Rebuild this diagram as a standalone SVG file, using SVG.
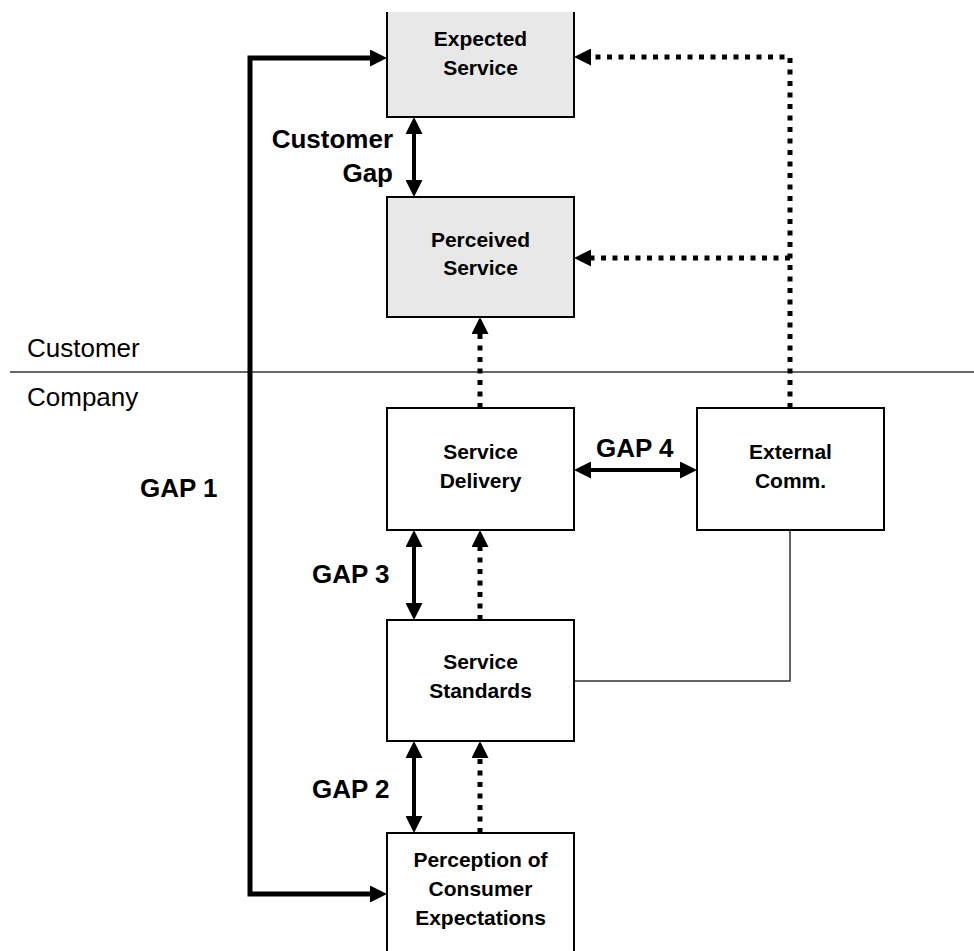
<svg xmlns="http://www.w3.org/2000/svg" width="974" height="951" viewBox="0 0 974 951">
  <style>
    .box { stroke: #000; stroke-width: 2; }
    .gray { fill: #e8e8e8; }
    .white { fill: #fff; }
    .nt { font-family: "Liberation Sans", Arial, sans-serif; font-weight: bold; font-size: 21px; text-anchor: middle; fill: #000; }
    .lbl { font-family: "Liberation Sans", Arial, sans-serif; font-weight: bold; font-size: 26px; fill: #000; }
    .zone { font-family: "Liberation Sans", Arial, sans-serif; font-size: 26px; fill: #000; }
    .solid { fill: none; stroke: #000; stroke-width: 4; }
    .thick { fill: none; stroke: #000; stroke-width: 5; }
    .dot { fill: none; stroke: #000; stroke-width: 5; stroke-dasharray: 5 6.5; }
    .thin { fill: none; stroke: #333; stroke-width: 1.5; }
  </style>
  <defs>
    <marker id="arr" markerUnits="userSpaceOnUse" markerWidth="17" markerHeight="17" viewBox="0 0 17 17" refX="7" refY="8.5" orient="auto-start-reverse">
      <path d="M0,0 L17,8.5 L0,17 z" fill="#000"/>
    </marker>
  </defs>

  <rect width="974" height="951" fill="#fff"/>

  <!-- zone separator -->
  <g id="zones">
    <line x1="10" y1="372" x2="974" y2="372" stroke="#333" stroke-width="1.5"/>
    <text class="zone" x="27" y="357">Customer</text>
    <text class="zone" x="27" y="406">Company</text>
  </g>

  <!-- connectors -->
  <g id="connectors">
    <path class="thick" d="M377,58 H250 V894 H377" marker-start="url(#arr)" marker-end="url(#arr)"/>
    <path class="solid" d="M414,127 V187" marker-start="url(#arr)" marker-end="url(#arr)"/>
    <path class="solid" d="M414,540 V610" marker-start="url(#arr)" marker-end="url(#arr)"/>
    <path class="solid" d="M414,751 V823" marker-start="url(#arr)" marker-end="url(#arr)"/>
    <path class="solid" d="M584,470 H687" marker-start="url(#arr)" marker-end="url(#arr)"/>
    <path class="dot" d="M790,408 V57 H584" marker-end="url(#arr)"/>
    <path class="dot" d="M790,258 H584" marker-end="url(#arr)"/>
    <path class="dot" d="M480,408 V327" marker-end="url(#arr)"/>
    <path class="dot" d="M480,620 V540" marker-end="url(#arr)"/>
    <path class="dot" d="M480,833 V751" marker-end="url(#arr)"/>
    <path class="thin" d="M790,530 V681 H574"/>
  </g>

  <!-- labels -->
  <g id="labels">
    <text class="lbl" x="393" y="148" text-anchor="end">Customer</text>
    <text class="lbl" x="393" y="182" text-anchor="end">Gap</text>
    <text class="lbl" x="140" y="497">GAP 1</text>
    <text class="lbl" x="312" y="583">GAP 3</text>
    <text class="lbl" x="312" y="798">GAP 2</text>
    <text class="lbl" x="596" y="457">GAP 4</text>
  </g>

  <!-- nodes -->
  <g id="expected-service">
    <rect class="gray" x="387" y="12" width="187" height="105"/>
    <path d="M387,12 V117 H574 V12" fill="none" stroke="#000" stroke-width="2"/>
    <text class="nt" x="480.5" y="46">Expected</text>
    <text class="nt" x="480.5" y="75">Service</text>
  </g>
  <g id="perceived-service">
    <rect class="box gray" x="387" y="197" width="187" height="120"/>
    <text class="nt" x="480.5" y="247">Perceived</text>
    <text class="nt" x="480.5" y="275">Service</text>
  </g>
  <g id="service-delivery">
    <rect class="box white" x="387" y="408" width="187" height="122"/>
    <text class="nt" x="480.5" y="459">Service</text>
    <text class="nt" x="480.5" y="488">Delivery</text>
  </g>
  <g id="external-comm">
    <rect class="box white" x="697" y="408" width="187" height="122"/>
    <text class="nt" x="790.5" y="459">External</text>
    <text class="nt" x="790.5" y="488">Comm.</text>
  </g>
  <g id="service-standards">
    <rect class="box white" x="387" y="620" width="187" height="121"/>
    <text class="nt" x="480.5" y="669">Service</text>
    <text class="nt" x="480.5" y="698">Standards</text>
  </g>
  <g id="perception-of-consumer-expectations">
    <rect class="box white" x="387" y="833" width="187" height="130"/>
    <text class="nt" x="480.5" y="867">Perception of</text>
    <text class="nt" x="480.5" y="896">Consumer</text>
    <text class="nt" x="480.5" y="925">Expectations</text>
  </g>
</svg>
